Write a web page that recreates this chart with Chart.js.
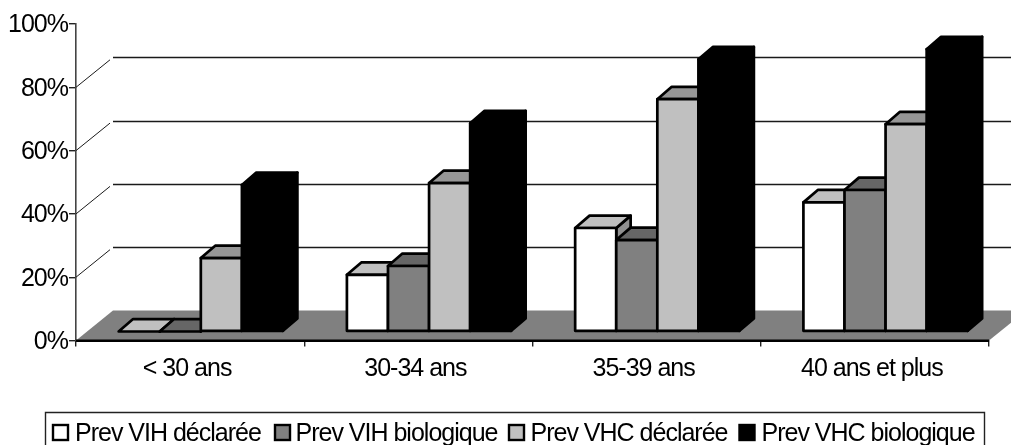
<!DOCTYPE html>
<html><head><meta charset="utf-8">
<style>html,body{margin:0;padding:0;background:#fff}#w{width:1011px;height:445px;position:relative}</style>
<script src="https://cdn.jsdelivr.net/npm/chart.js@4"></script>
</head><body><div id="w"><canvas id="c" width="1011" height="445"></canvas></div>
<script>
const categories = ['< 30 ans', '30-34 ans', '35-39 ans', '40 ans et plus'];
const prevVihDeclaree = [0, 17.9, 32.7, 40.8];
const prevVihBiologique = [0, 20.7, 28.9, 44.7];
const prevVhcDeclaree = [23.2, 46.9, 73.4, 65.5];
const prevVhcBiologique = [46.3, 65.8, 86, 89.2];
const seriesNames = ['Prev VIH déclarée', 'Prev VIH biologique', 'Prev VHC déclarée', 'Prev VHC biologique'];
const yTicks = [0, 20, 40, 60, 80, 100];

const FONT = '"Liberation Sans", Arial, sans-serif';
const FS = 25;
const faces = [
  {front:'#ffffff', top:'#c0c0c0', side:'#909090'},
  {front:'#808080', top:'#666666', side:'#666666'},
  {front:'#c0c0c0', top:'#969696', side:'#969696'},
  {front:'#000000', top:'#000000', side:'#000000'}
];
const WALL = {dx:37, dy:30};
const BAR_OFF = {dx:10.7, dy:9};
const BAR_DEPTH = {dx:14.4, dy:12.4};

function poly(ctx, pts, fill, stroke, lw){
  ctx.beginPath();
  pts.forEach((p,i)=> i ? ctx.lineTo(p[0],p[1]) : ctx.moveTo(p[0],p[1]));
  ctx.closePath();
  if(fill){ctx.fillStyle=fill;ctx.fill();}
  if(stroke){ctx.strokeStyle=stroke;ctx.lineWidth=lw;ctx.lineJoin='round';ctx.stroke();}
}

const scene3d = {
  id:'scene3d',
  beforeDraw(chart){ chart.ctx.letterSpacing='-1px'; },
  beforeDatasetsDraw(chart){
    const {ctx, scales:{x,y}} = chart;
    const b = y.getPixelForValue(0), l = x.left, r = x.right;
    ctx.save();
    poly(ctx, [[l,b],[l+WALL.dx,b-WALL.dy],[r+WALL.dx,b-WALL.dy],[r,b]], '#808080');
    yTicks.filter(t=>t>0&&t<100).forEach(t=>{
      const py = y.getPixelForValue(t);
      ctx.strokeStyle='#1a1a1a'; ctx.lineWidth=1;
      ctx.beginPath(); ctx.moveTo(l,py); ctx.lineTo(l+WALL.dx-3,py-WALL.dy+2.5); ctx.stroke();
      ctx.lineWidth=1.4;
      const by=Math.round(py-WALL.dy)+0.5;
      ctx.beginPath(); ctx.moveTo(l+WALL.dx,by); ctx.lineTo(chart.width,by); ctx.stroke();
    });
    // series are drawn first to last, so each front face hides the side of the bar before it
    chart.getSortedVisibleDatasetMetas().slice().sort((a,c)=>a.index-c.index).forEach(meta=>{
      const f = faces[meta.index];
      meta.data.forEach(el=>{
        const p = el.getProps(['x','y','base','width'], true);
        const x0 = p.x - p.width/2 + BAR_OFF.dx, x1 = p.x + p.width/2 + BAR_OFF.dx;
        const t = p.y - BAR_OFF.dy, bt = p.base - BAR_OFF.dy;
        const d = BAR_DEPTH, lw = 2.7;
        poly(ctx, [[x1,t],[x1+d.dx,t-d.dy],[x1+d.dx,bt-d.dy],[x1,bt]], f.side, '#000', lw);
        poly(ctx, [[x0,t],[x0+d.dx,t-d.dy],[x1+d.dx,t-d.dy],[x1,t]], f.top, '#000', lw);
        if(bt-t>0.5) poly(ctx, [[x0,t],[x1,t],[x1,bt],[x0,bt]], f.front, '#000', lw);
      });
    });
    ctx.restore();
  },
  beforeDatasetDraw(){ return false; },
  afterDraw(chart){
    const {ctx, data} = chart;
    const b = chart.scales.y.getPixelForValue(0);
    ctx.save();
    ctx.strokeStyle='#000'; ctx.lineWidth=2;
    ctx.beginPath(); ctx.moveTo(chart.scales.x.left,b); ctx.lineTo(chart.scales.x.right,b); ctx.stroke();
    ctx.strokeStyle='#222'; ctx.lineWidth=1.4;
    ctx.beginPath(); ctx.moveTo(45.5,445); ctx.lineTo(45.5,412.5); ctx.lineTo(984.5,412.5); ctx.lineTo(984.5,445); ctx.stroke();
    const marks=[53,275,509,739.5], texts=[75,295.5,530.5,761.5];
    ctx.letterSpacing='-1px';
    ctx.font=FS+'px '+FONT; ctx.textBaseline='alphabetic'; ctx.textAlign='left';
    data.datasets.forEach((ds,i)=>{
      ctx.fillStyle=faces[i].front; ctx.strokeStyle='#000'; ctx.lineWidth=2.4;
      ctx.fillRect(marks[i],425,15,15); ctx.strokeRect(marks[i],425,15,15);
      ctx.fillStyle='#000';
      ctx.fillText(ds.label, texts[i], 441);
    });
    ctx.restore();
  }
};

new Chart(document.getElementById('c'),{
  type:'bar',
  data:{labels:categories,datasets:[
    {label:seriesNames[0],data:prevVihDeclaree,backgroundColor:faces[0].front,borderColor:'#000'},
    {label:seriesNames[1],data:prevVihBiologique,backgroundColor:faces[1].front,borderColor:'#000'},
    {label:seriesNames[2],data:prevVhcDeclaree,backgroundColor:faces[2].front,borderColor:'#000'},
    {label:seriesNames[3],data:prevVhcBiologique,backgroundColor:faces[3].front,borderColor:'#000'}
  ]},
  plugins:[scene3d],
  options:{
    responsive:false,animation:false,
    layout:{padding:{left:0,right:22,top:24,bottom:0}},
    categoryPercentage:0.72,barPercentage:1,
    plugins:{legend:{display:false},tooltip:{enabled:false},title:{display:false}},
    scales:{
      x:{
        afterFit(s){s.height=104.5;},
        grid:{drawOnChartArea:false,drawTicks:true,tickLength:6,color:'#222',lineWidth:1.4},
        border:{color:'#000',width:2},
        ticks:{color:'#000',font:{family:FONT,size:FS},padding:8,maxRotation:0,labelOffset:-3}
      },
      y:{
        min:0,max:100,
        afterFit(s){s.width=76;},
        afterBuildTicks(s){s.ticks=yTicks.map(v=>({value:v}));},
        grid:{drawOnChartArea:false,drawTicks:true,tickLength:7,color:'#222',lineWidth:1.4},
        border:{color:'#444',width:1.6},
        ticks:{color:'#000',font:{family:FONT,size:FS},padding:1,labelOffset:1.5,callback:v=>v+'%'}
      }
    }
  }
});
</script></body></html>
